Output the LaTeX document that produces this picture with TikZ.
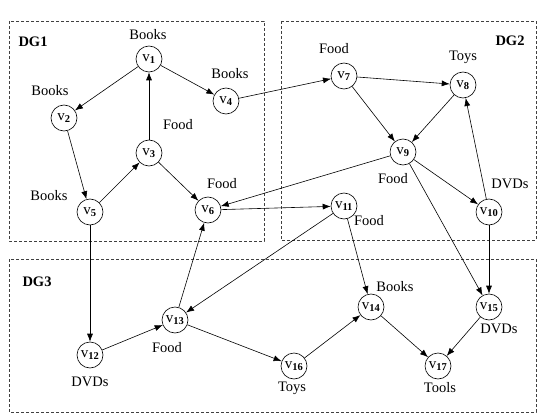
\documentclass[tikz,border=0pt]{standalone}
\usepackage{fontspec}
\setmainfont{Liberation Serif}
\usepackage{tikz}
\usetikzlibrary{arrows.meta}

\tikzset{
  vertex/.style={draw,circle,minimum size=26pt,inner sep=0pt,fill=white,font=\fontsize{15}{17}\selectfont},
  group/.style={draw=black!75,dashed,dash pattern=on 3pt off 2pt},
  tag/.style={font=\fontsize{14.5}{17}\selectfont},
  dgname/.style={font=\fontsize{14.5}{17}\selectfont\bfseries},
  >={Latex[length=8pt,width=6pt]}
}
\newcommand{\vx}[1]{v\textsubscript{\textbf{#1}}}

\begin{document}
\begin{tikzpicture}[x=1pt,y=-1pt,line width=0.6pt]
\useasboundingbox (0,0) rectangle (543,417);
\draw [group] (9,21) rectangle (264,241);
\draw [group] (281,21) rectangle (536,240);
\draw [group] (9,259) rectangle (536,412);
\node [dgname] (dg1) at (33,42) {DG1};
\node [dgname] (dg2) at (510,41) {DG2};
\node [dgname] (dg3) at (37,282) {DG3};
\node [vertex] (v1) at (149,59) {\vx{1}};
\node [vertex] (v2) at (64,118) {\vx{2}};
\node [vertex] (v3) at (149,153) {\vx{3}};
\node [vertex] (v4) at (226,101) {\vx{4}};
\node [vertex] (v5) at (90,212) {\vx{5}};
\node [vertex] (v6) at (208,210) {\vx{6}};
\node [vertex] (v7) at (344,76) {\vx{7}};
\node [vertex] (v8) at (463,85) {\vx{8}};
\node [vertex] (v9) at (403,152) {\vx{9}};
\node [vertex] (v10) at (489,212) {\vx{10}};
\node [vertex] (v11) at (344,206) {\vx{11}};
\node [vertex] (v12) at (90,355) {\vx{12}};
\node [vertex] (v13) at (175,320) {\vx{13}};
\node [vertex] (v14) at (371,307) {\vx{14}};
\node [vertex] (v15) at (489,307) {\vx{15}};
\node [vertex] (v16) at (294,366) {\vx{16}};
\node [vertex] (v17) at (438,366) {\vx{17}};
\node [tag] (l1) at (148,35) {Books};
\node [tag] (l2) at (50,91) {Books};
\node [tag] (l3) at (178,125) {Food};
\node [tag] (l4) at (230,74) {Books};
\node [tag] (l5) at (49,196) {Books};
\node [tag] (l6) at (222,184) {Food};
\node [tag] (l7) at (334,49) {Food};
\node [tag] (l8) at (463,57) {Toys};
\node [tag] (l9) at (393,179) {Food};
\node [tag] (l10) at (510,184) {DVDs};
\node [tag] (l11) at (369,221) {Food};
\node [tag] (l12) at (90,382) {DVDs};
\node [tag] (l13) at (167,348) {Food};
\node [tag] (l14) at (395,287) {Books};
\node [tag] (l15) at (499,329) {DVDs};
\node [tag] (l16) at (292,388) {Toys};
\node [tag] (l17) at (440,388) {Tools};
\draw [->] (v1) -- (v2);
\draw [->] (v1) -- (v4);
\draw [->] (v3) -- (v1);
\draw [->] (v2) -- (v5);
\draw [->] (v5) -- (v3);
\draw [->] (v3) -- (v6);
\draw [->] (v4) -- (v7);
\draw [->] (v7) -- (v8);
\draw [->] (v7) -- (v9);
\draw [->] (v8) -- (v9);
\draw [->] (v9) -- (v10);
\draw [->] (v10) -- (v8);
\draw [->] (v9) -- (v6);
\draw [->] (v6) -- (v11);
\draw [->] (v9) -- (v15);
\draw [->] (v10) -- (v15);
\draw [->] (v11) -- (v13);
\draw [->] (v11) -- (v14);
\draw [->] (v5) -- (v12);
\draw [->] (v13) -- (v6);
\draw [->] (v12) -- (v13);
\draw [->] (v13) -- (v16);
\draw [->] (v16) -- (v14);
\draw [->] (v14) -- (v17);
\draw [->] (v15) -- (v17);
\end{tikzpicture}
\end{document}
